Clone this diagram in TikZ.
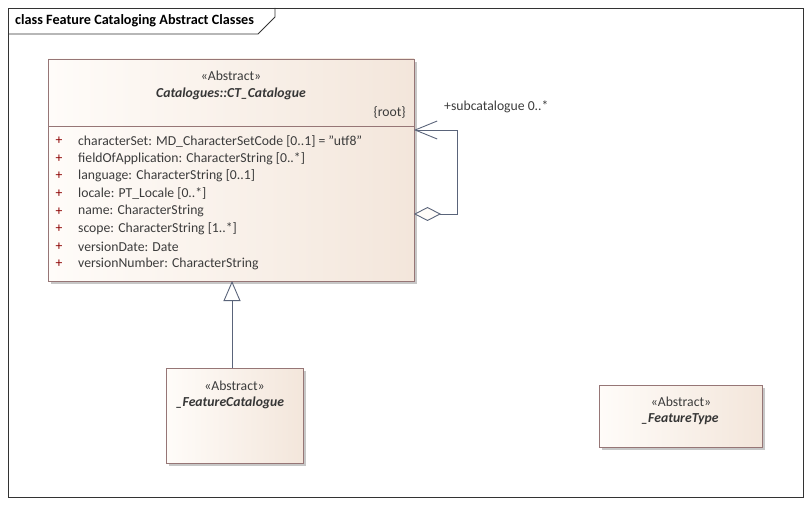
\documentclass[tikz,border=0pt]{standalone}
\usepackage{fontspec}
\setmainfont{Carlito}
\usetikzlibrary{shadows,arrows.meta,shapes.geometric}
\definecolor{boxborder}{RGB}{150,118,118}
\definecolor{fillL}{RGB}{255,252,249}
\definecolor{fillR}{RGB}{243,230,219}
\definecolor{conn}{RGB}{90,100,122}
\definecolor{txt}{RGB}{60,60,60}
\tikzset{
  classbox/.style={draw=boxborder, line width=0.9pt, left color=fillL, right color=fillR, shading angle=90,
    drop shadow={shadow xshift=3pt, shadow yshift=-3pt, fill=black!22, opacity=1},
    inner sep=0pt, outer sep=0pt},
  attr/.style={font=\fontsize{13.7}{16}\selectfont, text=txt, inner sep=0pt, anchor=west},
  cname/.style={font=\fontsize{13.7}{16}\selectfont\bfseries\itshape, text=txt!90!black, inner sep=0pt},
  connline/.style={draw=conn, line width=0.9pt},
}
\begin{document}
\begin{tikzpicture}[x=1pt,y=-1pt]
\useasboundingbox (0,0) rectangle (811,505);
% frame
\draw[line width=0.8pt, black!80] (8,8) rectangle (803,497);
\draw[line width=0.8pt, black!80] (8,34) -- (258,34) -- (275,17) -- (275,8);
\node[anchor=west, inner sep=0pt, font=\fontsize{14.2}{16}\selectfont\bfseries] (title) at (15,21) {class Feature Cataloging Abstract Classes};

% CT_Catalogue
\node[classbox, minimum width=366pt, minimum height=222pt] (ct) at (231,170) {};
\draw[draw=boxborder, line width=0.9pt] (ct.west |- 0,126) -- (ct.east |- 0,126);
\node[attr, anchor=center] (ctst) at (231,76) {«Abstract»};
\node[cname] (ctname) at (231,94) {Catalogues::CT\_Catalogue};
\node[attr, anchor=east] (ctroot) at (406,112) {\{root\}};
\foreach \i/\t in {0/{characterSet: MD\_CharacterSetCode [0..1] = \symbol{34}utf8\symbol{34}},
                   1/{fieldOfApplication: CharacterString [0..*]},
                   2/{language: CharacterString [0..1]},
                   3/{locale: PT\_Locale [0..*]},
                   4/{name: CharacterString},
                   5/{scope: CharacterString [1..*]},
                   6/{versionDate: Date},
                   7/{versionNumber: CharacterString}}{
  \node[attr, anchor=center, text=red!55!black] (plus\i) at (59,141+17.6*\i) {+};
  \node[attr] (att\i) at (78,141+17.6*\i) {\t};
}

% _FeatureCatalogue
\node[classbox, minimum width=137pt, minimum height=95pt] (fc) at (234.5,415.5) {};
\node[attr, anchor=center] (fcst) at (234.5,386) {«Abstract»};
\node[cname] (fcname) at (230,403) {\_FeatureCatalogue};

% _FeatureType
\node[classbox, minimum width=163pt, minimum height=62pt] (ft) at (680.5,416) {};
\node[attr, anchor=center] (ftst) at (681,402) {«Abstract»};
\node[cname] (ftname) at (680,419) {\_FeatureType};

% generalization
\draw[connline, -{Triangle[open, length=20pt, width=17pt]}] (fc.north -| 232,0) -- (ct.south -| 232,0);

% self association (aggregation)
\coordinate (a1) at (ct.east |- 0,130);
\coordinate (a2) at (457,130);
\coordinate (a3) at (457,214);
\coordinate (a4) at (ct.east |- 0,214);
\draw[connline, {Straight Barb[length=22pt, width=18pt, line width=0.9pt]}-{Diamond[open, fill=fillL, length=27pt, width=14pt]}] (a1) -- (a2) -- (a3) -- (a4);
\node[attr, anchor=west] (sub) at (444,107) {+subcatalogue 0..*};
\end{tikzpicture}
\end{document}
